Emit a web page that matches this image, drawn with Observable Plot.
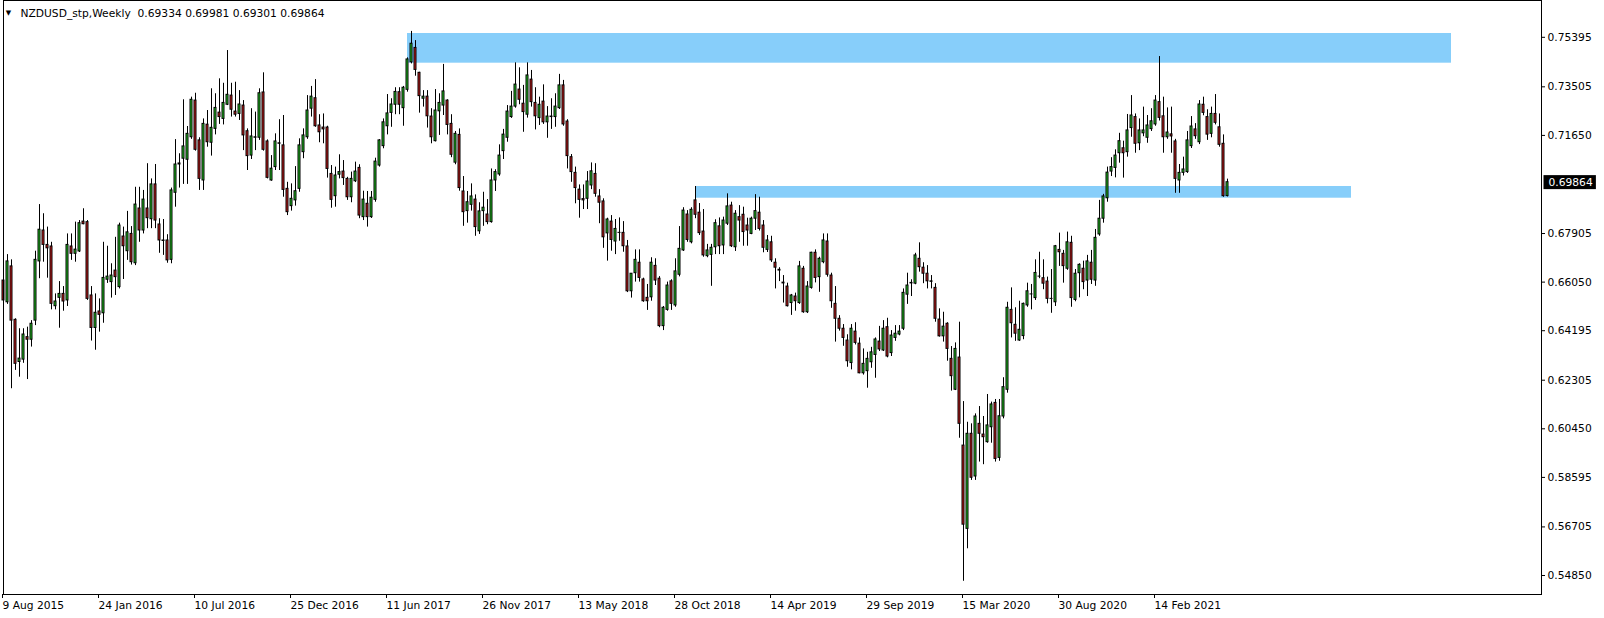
<!DOCTYPE html>
<html><head><meta charset="utf-8">
<script src="https://cdn.jsdelivr.net/npm/d3@7"></script>
<script src="https://cdn.jsdelivr.net/npm/@observablehq/plot@0.6"></script>
<style>
html,body{margin:0;padding:0;background:#fff;}
#chart svg{display:block;}
</style></head><body><div id="chart"></div>
<script>
const symbolTitle = "NZDUSD_stp,Weekly";

const opens = [
.6611,.6528,.6665,.6461,.6300,.6309,.6395,.6385,.6458,.6684,
.6802,.6747,.6741,.6513,.6545,.6560,.6535,.6741,.6713,.6722,
.6836,.6834,.6554,.6430,.6493,.6486,.6614,.6605,.6649,.6586,
.6779,.6723,.6789,.6677,.6886,.6802,.6886,.6845,.6978,.6825,
.6764,.6764,.6690,.6946,.7054,.7076,.7072,.7158,.7298,.7146,
.6993,.7206,.7137,.7190,.7252,.7228,.7282,.7317,.7256,.7247,
.7279,.7181,.7088,.7158,.7156,.7329,.7142,.6993,.7044,.7135,
.7127,.6961,.6895,.6917,.6961,.7101,.7158,.7267,.7307,.7203,
.7195,.7195,.7018,.6933,.7015,.7027,.6999,.6929,.6990,.7041,
.6853,.6904,.6853,.6919,.7050,.7124,.7200,.7251,.7282,.7330,
.7269,.7339,.7444,.7499,.7404,.7305,.7313,.7237,.7143,.7257,
.7279,.7298,.7209,.7061,.7167,.6951,.6876,.6900,.6920,.6799,
.6876,.6863,.6834,.6993,.7016,.7105,.7156,.7235,.7275,.7340,
.7286,.7244,.7378,.7289,.7231,.7294,.7215,.7237,.7235,.7269,
.7356,.7218,.7082,.7022,.6958,.6922,.6923,.6974,.7018,.6932,
.6913,.6791,.6836,.6760,.6793,.6793,.6741,.6570,.6639,.6679,
.6615,.6545,.6547,.6667,.6618,.6437,.6499,.6608,.6516,.6633,
.6726,.6863,.6757,.6917,.6870,.6798,.6704,.6709,.6738,.6818,
.6745,.6828,.6897,.6738,.6853,.6862,.6821,.6789,.6847,.6870,
.6821,.6728,.6757,.6679,.6652,.6603,.6588,.6525,.6550,.6525,
.6656,.6490,.6583,.6717,.6624,.6681,.6760,.6630,.6522,.6465,
.6427,.6382,.6296,.6416,.6370,.6257,.6265,.6299,.6327,.6378,
.6344,.6433,.6334,.6392,.6405,.6427,.6557,.6602,.6599,.6694,
.6660,.6637,.6608,.6583,.6462,.6398,.6446,.6312,.6194,.6317,
.5981,.5663,.6026,.5863,.6064,.6023,.5994,.6051,.6144,.5934,
.6092,.6194,.6499,.6442,.6382,.6399,.6516,.6558,.6544,.6626,
.6620,.6607,.6541,.6528,.6728,.6713,.6656,.6755,.6537,.6639,
.6656,.6611,.6679,.6611,.6787,.6847,.6925,.7027,.7041,.7097,
.7116,.7101,.7193,.7235,.7135,.7173,.7156,.7189,.7207,.7292,
.7238,.7158,.7169,.7142,.6993,.7022,.7025,.7124,.7188,.7139,
.7282,.7235,.7171,.7247,.7196,.7133,.69334
];
const highs = [
.6640,.6710,.6690,.6465,.6427,.6427,.6433,.6458,.6723,.6901,
.6866,.6815,.6757,.6560,.6607,.6588,.6789,.6789,.6834,.6840,
.6885,.6840,.6588,.6560,.6541,.6757,.6742,.6675,.6776,.6830,
.6815,.6875,.6817,.6967,.6967,.6955,.7057,.6999,.7054,.6847,
.6844,.6786,.6964,.7149,.7095,.7301,.7199,.7311,.7326,.7156,
.7228,.7260,.7343,.7324,.7381,.7364,.7489,.7364,.7368,.7336,
.7298,.7190,.7267,.7254,.7343,.7404,.7148,.7088,.7171,.7225,
.7241,.6986,.6980,.7046,.7152,.7190,.7317,.7352,.7378,.7244,
.7247,.7200,.7050,.7044,.7091,.7069,.7005,.7025,.7063,.7053,
.6952,.6951,.6951,.7078,.7149,.7228,.7321,.7305,.7347,.7347,
.7352,.7461,.7562,.7527,.7406,.7336,.7336,.7267,.7340,.7324,
.7436,.7301,.7244,.7180,.7190,.7008,.6951,.6980,.6938,.6908,
.6948,.6920,.7037,.7034,.7129,.7188,.7279,.7333,.7442,.7423,
.7356,.7442,.7413,.7347,.7311,.7358,.7275,.7305,.7324,.7398,
.7375,.7225,.7092,.7044,.6976,.6976,.7027,.7060,.7057,.6958,
.6923,.6849,.6859,.6844,.6850,.6836,.6764,.6637,.6728,.6728,
.6620,.6596,.6698,.6694,.6626,.6512,.6605,.6614,.6694,.6817,
.6889,.6878,.6889,.6970,.6905,.6882,.6749,.6749,.6843,.6850,
.6853,.6942,.6910,.6878,.6897,.6891,.6849,.6853,.6939,.6929,
.6840,.6783,.6780,.6694,.6660,.6630,.6601,.6558,.6563,.6684,
.6665,.6607,.6719,.6728,.6700,.6789,.6789,.6639,.6588,.6477,
.6443,.6404,.6443,.6450,.6392,.6350,.6337,.6356,.6392,.6436,
.6458,.6467,.6420,.6439,.6439,.6579,.6639,.6614,.6715,.6755,
.6679,.6668,.6630,.6599,.6503,.6490,.6450,.6359,.6373,.6452,
.6149,.6070,.6064,.6102,.6130,.6092,.6176,.6147,.6157,.6157,
.6240,.6528,.6583,.6507,.6532,.6525,.6601,.6596,.6690,.6719,
.6690,.6624,.6653,.6745,.6792,.6726,.6796,.6780,.6653,.6675,
.6685,.6707,.6726,.6806,.6917,.6940,.7044,.7080,.7110,.7173,
.7143,.7245,.7317,.7247,.7228,.7273,.7241,.7267,.7317,.7466,
.7311,.7270,.7273,.7150,.7054,.7082,.7180,.7237,.7210,.7298,
.7311,.7263,.7273,.7321,.7247,.7167,.69981
];
const lows = [
.6480,.6520,.6198,.6268,.6242,.6295,.6233,.6357,.6439,.6618,
.6681,.6620,.6499,.6499,.6429,.6494,.6512,.6688,.6681,.6718,
.6824,.6535,.6380,.6345,.6414,.6448,.6600,.6544,.6554,.6579,
.6615,.6688,.6670,.6668,.6757,.6789,.6809,.6809,.6809,.6715,
.6707,.6677,.6675,.6891,.6964,.6978,.6978,.7150,.7105,.6955,
.6955,.7120,.7086,.7167,.7207,.7205,.7279,.7235,.7235,.7222,
.7107,.7031,.7073,.7107,.7146,.7105,.6999,.6990,.7031,.7031,
.6929,.6859,.6876,.6895,.6948,.7076,.7150,.7235,.7196,.7137,
.7133,.7002,.6887,.6891,.6999,.6974,.6917,.6908,.6985,.6847,
.6840,.6815,.6848,.6910,.7044,.7114,.7167,.7196,.7244,.7244,
.7200,.7330,.7438,.7391,.7250,.7273,.7193,.7133,.7140,.7165,
.7241,.7167,.7080,.7053,.6952,.6818,.6830,.6876,.6780,.6787,
.6818,.6824,.6830,.6951,.7009,.7073,.7139,.7230,.7269,.7282,
.7177,.7231,.7273,.7186,.7203,.7207,.7154,.7188,.7196,.7264,
.7200,.7037,.6986,.6904,.6849,.6882,.6882,.6958,.6929,.6828,
.6734,.6685,.6723,.6710,.6761,.6719,.6565,.6544,.6605,.6605,
.6528,.6497,.6532,.6592,.6431,.6420,.6494,.6497,.6509,.6625,
.6722,.6757,.6751,.6847,.6783,.6700,.6698,.6589,.6710,.6710,
.6710,.6821,.6737,.6722,.6757,.6742,.6742,.6786,.6802,.6800,
.6717,.6718,.6680,.6579,.6607,.6525,.6510,.6478,.6494,.6520,
.6486,.6485,.6578,.6602,.6566,.6675,.6624,.6505,.6376,.6418,
.6360,.6280,.6270,.6365,.6255,.6250,.6200,.6276,.6238,.6340,
.6340,.6316,.6321,.6379,.6400,.6420,.6520,.6550,.6595,.6643,
.6599,.6579,.6579,.6452,.6395,.6376,.6303,.6189,.6191,.6009,
.5463,.5587,.5848,.5848,.5918,.5908,.5990,.5990,.5918,.5921,
.6083,.6181,.6392,.6379,.6379,.6385,.6509,.6499,.6535,.6618,
.6576,.6522,.6486,.6512,.6665,.6601,.6650,.6509,.6530,.6545,
.6576,.6550,.6596,.6589,.6780,.6830,.6910,.7008,.7003,.7059,
.7002,.7082,.7158,.7097,.7107,.7160,.7135,.7180,.7200,.7220,
.7097,.7150,.7097,.6944,.6944,.7010,.7020,.7115,.7150,.7130,
.7240,.7146,.7156,.7205,.7120,.6929,.69301
];
const closes = [
.6535,.6684,.6458,.6293,.6313,.6405,.6385,.6446,.6690,.6805,
.6747,.6734,.6522,.6531,.6560,.6531,.6747,.6713,.6729,.6830,
.6826,.6541,.6430,.6488,.6480,.6621,.6626,.6630,.6624,.6821,
.6742,.6795,.6681,.6901,.6802,.6920,.6849,.6978,.6840,.6764,
.6762,.6688,.6955,.7054,.7058,.7123,.7171,.7301,.7110,.6999,
.7209,.7139,.7194,.7270,.7235,.7289,.7320,.7263,.7244,.7283,
.7165,.7086,.7161,.7156,.7326,.7110,.7003,.7038,.7142,.7133,
.6957,.6872,.6923,.6952,.7127,.7165,.7260,.7313,.7200,.7177,
.7188,.7037,.6919,.7012,.7025,.7002,.6929,.6999,.7027,.6859,
.6920,.6853,.6927,.7065,.7146,.7215,.7249,.7283,.7331,.7282,
.7347,.7455,.7515,.7415,.7315,.7313,.7238,.7158,.7260,.7289,
.7333,.7205,.7091,.7171,.6964,.6872,.6910,.6932,.6815,.6875,
.6889,.6834,.6993,.7025,.7088,.7168,.7256,.7275,.7359,.7301,
.7254,.7394,.7292,.7238,.7282,.7215,.7237,.7235,.7275,.7356,
.7207,.7086,.7025,.6964,.6919,.6917,.6989,.7028,.6942,.6908,
.6776,.6844,.6766,.6808,.6793,.6742,.6570,.6637,.6690,.6621,
.6532,.6532,.6679,.6611,.6437,.6507,.6592,.6522,.6646,.6732,
.6878,.6766,.6881,.6862,.6792,.6707,.6726,.6736,.6830,.6742,
.6840,.6894,.6742,.6866,.6840,.6796,.6802,.6847,.6876,.6808,
.6736,.6764,.6688,.6660,.6649,.6600,.6513,.6554,.6532,.6665,
.6490,.6588,.6717,.6621,.6694,.6764,.6633,.6532,.6465,.6427,
.6392,.6303,.6427,.6373,.6257,.6293,.6312,.6337,.6386,.6348,
.6427,.6321,.6401,.6408,.6416,.6564,.6592,.6600,.6707,.6662,
.6637,.6608,.6606,.6465,.6398,.6435,.6350,.6246,.6350,.6064,
.5679,.6026,.5858,.6092,.6026,.6013,.6058,.6138,.5930,.6093,
.6204,.6507,.6448,.6408,.6423,.6522,.6570,.6558,.6640,.6626,
.6599,.6541,.6541,.6742,.6719,.6666,.6757,.6544,.6637,.6671,
.6605,.6684,.6614,.6774,.6847,.6932,.7023,.7044,.7088,.7143,
.7097,.7184,.7241,.7133,.7184,.7184,.7203,.7219,.7298,.7232,
.7158,.7176,.7161,.6999,.7022,.7035,.7146,.7199,.7162,.7283,
.7251,.7168,.7247,.7213,.7129,.6933,.69864
];

// bottom axis: bar index of each date label and its text
const dateTickBars = [0, 24, 48, 72, 96, 120, 144, 168, 192, 216, 240, 264, 288];
const dateLabels = ["9 Aug 2015", "24 Jan 2016", "10 Jul 2016", "25 Dec 2016", "11 Jun 2017", "26 Nov 2017",
  "13 May 2018", "28 Oct 2018", "14 Apr 2019", "29 Sep 2019", "15 Mar 2020", "30 Aug 2020", "14 Feb 2021"];
// right axis price labels
const priceTicks = [0.75395, 0.73505, 0.71650, 0.67905, 0.66050, 0.64195, 0.62305, 0.60450, 0.58595, 0.56705, 0.54850];

// supply / support zones (bar index span, price span)
const zoneStartBar = [101, 173];
const zoneEndBar = [362, 337];
const zoneTop = [0.75540, 0.69700];
const zoneBottom = [0.74407, 0.69253];

const bullColor = "#22cc22";
const bearColor = "#d01c1c";
const zoneColor = "#87cefa";

const candles = opens.map((o, i) => ({i, o, h: highs[i], l: lows[i], c: closes[i]}));
const zones = zoneStartBar.map((s, k) => ({x1: s, x2: zoneEndBar[k], y1: zoneBottom[k], y2: zoneTop[k]}));
const last = candles[candles.length - 1];
const labelMap = new Map(dateTickBars.map((b, k) => [b, dateLabels[k]]));
const f5 = v => v.toFixed(5);
const headerText = `${symbolTitle}\u00a0 ${f5(last.o)} ${f5(last.h)} ${f5(last.l)} ${f5(last.c)}`;

const plot = Plot.plot({
  width: 1604, height: 618,
  marginLeft: 0, marginRight: 63, marginTop: 0, marginBottom: 24,
  style: {fontFamily: "DejaVu Sans", fontSize: "10.7px", color: "black", background: "white", overflow: "visible"},
  x: {type: "linear", domain: [-0.75, 384.5]},
  y: {type: "linear", domain: [0.54125, 0.768]},
  marks: [
    Plot.rect(zones, {x1: "x1", x2: "x2", y1: "y1", y2: "y2", fill: zoneColor}),
    Plot.ruleX(candles, {x: "i", y1: "l", y2: "h", stroke: "black", strokeWidth: 1}),
    Plot.rect(candles, {x1: d => d.i - 0.375, x2: d => d.i + 0.375, y1: "o", y2: "c", fill: "black", insetTop: -0.5, insetBottom: -0.5}),
    Plot.rect(candles.filter(d => Math.abs(d.c - d.o) > 0.0004), {
      x1: d => d.i - 0.125, x2: d => d.i + 0.125, y1: "o", y2: "c",
      fill: d => d.c >= d.o ? bullColor : bearColor, insetTop: 0.5, insetBottom: 0.5
    }),
    Plot.frame({stroke: "black", insetLeft: 3}),
    Plot.axisY({anchor: "right", ticks: priceTicks, tickFormat: f5, tickSize: 3, tickPadding: 3, label: null}),
    Plot.axisX({ticks: dateTickBars, tickFormat: d => labelMap.get(d), tickSize: 4, tickPadding: 3, textAnchor: "start", dx: -1, label: null}),
    Plot.text([headerText], {frameAnchor: "top-left", dx: 20, dy: 13, lineAnchor: "middle", textAnchor: "start", fill: "black"}),
    Plot.text(["▼"], {frameAnchor: "top-left", dx: 8, dy: 12.5, lineAnchor: "middle", textAnchor: "middle", fontSize: 7, fill: "black"}),
    Plot.text([last.c], {y: d => d, text: d => f5(d), frameAnchor: "right", dx: 7, textAnchor: "start", lineAnchor: "middle", fill: "white"})
  ]
});
document.getElementById("chart").append(plot);

// black box behind current price label
d3.select(plot).selectAll('g[fill="white"] text').each(function () {
  const b = this.getBBox();
  d3.select(this.parentNode).insert("rect", "text")
    .attr("transform", this.getAttribute("transform"))
    .attr("x", b.x - 5).attr("y", b.y - 0.5)
    .attr("width", b.width + 8).attr("height", b.height + 1)
    .attr("fill", "black");
});
</script>
</body></html>
